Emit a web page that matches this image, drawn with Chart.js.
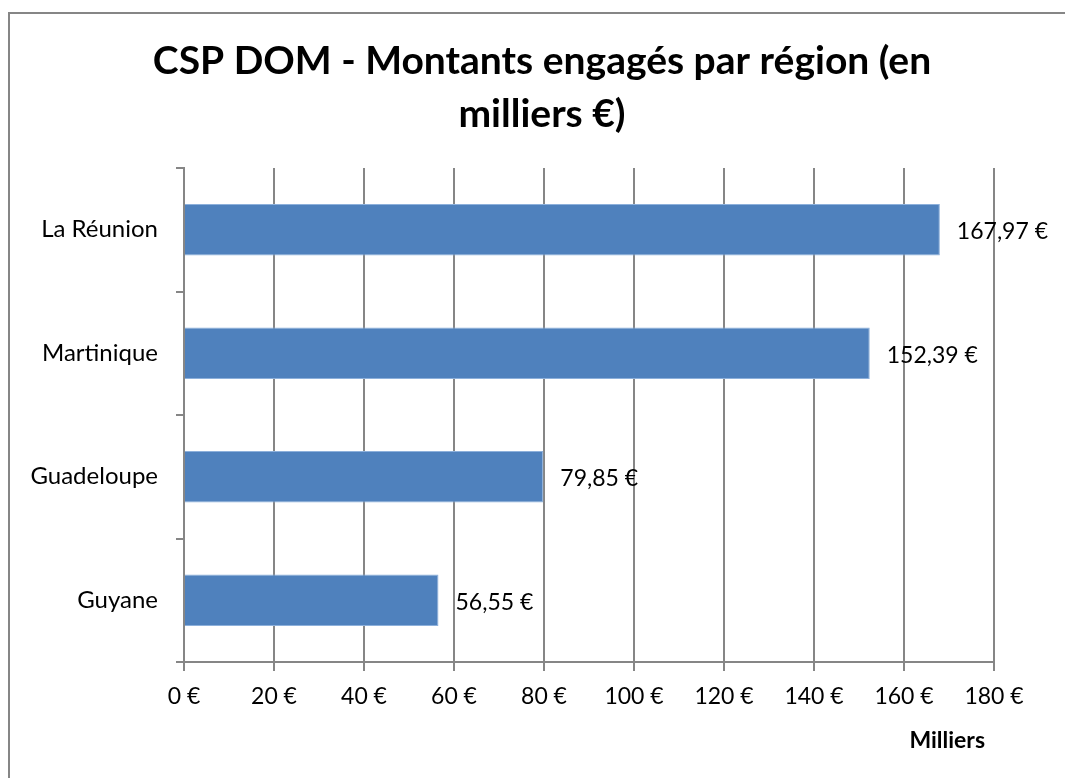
<!DOCTYPE html>
<html>
<head>
<meta charset="utf-8">
<script src="https://cdn.jsdelivr.net/npm/chart.js@4"></script>
<style>
  body { margin: 0; background: #fff; }
</style>
</head>
<body>
<canvas id="barChart" width="1065" height="778"></canvas>
<script>
Chart.defaults.font.family = 'Lato';
Chart.defaults.color = '#000';

// data
const regions = ['La Réunion', 'Martinique', 'Guadeloupe', 'Guyane'];
const montants = [167.97, 152.39, 79.85, 56.55];
const xTicks = [0, 20, 40, 60, 80, 100, 120, 140, 160, 180];
const titleLines = ['CSP DOM - Montants engagés par région (en', 'milliers €)'];

const gridColor = '#868686';

function euro(v, dec) {
  return v.toFixed(dec).replace('.', ',') + ' €';
}

// frame, title, value labels and "Milliers"
const extras = {
  id: 'extras',
  beforeDraw(chart) {
    const ctx = chart.ctx;
    ctx.save();
    ctx.strokeStyle = gridColor;
    ctx.lineWidth = 2;
    ctx.beginPath();
    ctx.moveTo(9, 800);
    ctx.lineTo(9, 13);
    ctx.lineTo(1100, 13);
    ctx.stroke();

    // title, centred on the frame (not on the plot)
    ctx.font = 'bold 39px Lato';
    ctx.fillStyle = '#000';
    ctx.textAlign = 'center';
    ctx.textBaseline = 'alphabetic';
    ctx.fillText(titleLines[0], 542, 74);
    ctx.fillText(titleLines[1], 542, 127);
    ctx.restore();
  },
  afterDatasetsDraw(chart) {
    const ctx = chart.ctx;
    const meta = chart.getDatasetMeta(0);
    ctx.save();
    ctx.font = '23px Lato';
    ctx.fillStyle = '#000';
    ctx.textAlign = 'left';
    ctx.textBaseline = 'middle';
    meta.data.forEach((bar, i) => {
      ctx.fillText(euro(montants[i], 2), bar.x + 17, bar.y + 2);
    });
    ctx.font = 'bold 23px Lato';
    ctx.textAlign = 'right';
    ctx.fillText('Milliers', chart.scales.x.right - 9, 741);
    ctx.restore();
  }
};

const chart_ctx = document.getElementById('barChart');
const barChart = new Chart(chart_ctx, {
  type: 'bar',
  data: {
    labels: regions,
    datasets: [{
      label: 'Montants',
      data: montants,
      backgroundColor: '#4F81BD',
      borderColor: '#8DB0DB',
      borderWidth: 1,
      barPercentage: 0.415,
      categoryPercentage: 1.0
    }]
  },
  options: {
    indexAxis: 'y',
    responsive: false,
    animation: false,
    layout: {
      padding: { left: 20, right: 71, top: 168, bottom: 16 }
    },
    plugins: {
      legend: { display: false },
      tooltip: { enabled: false },
      title: { display: false }
    },
    scales: {
      x: {
        min: 0,
        max: 180,
        afterBuildTicks: (scale) => { scale.ticks = xTicks.map(v => ({ value: v })); },
        afterFit: (scale) => { scale.height = 100; },
        grid: { color: gridColor, lineWidth: 2, tickLength: 9 },
        border: { color: gridColor, width: 2 },
        ticks: {
          font: { size: 23 },
          padding: 12,
          maxRotation: 0,
          callback: (v) => v + ' €'
        }
      },
      y: {
        afterFit: (scale) => { scale.width = 164; },
        grid: { offset: true, drawOnChartArea: false, color: gridColor, lineWidth: 2, tickLength: 8 },
        border: { color: gridColor, width: 2 },
        ticks: {
          font: { size: 24 },
          padding: 18
        }
      }
    }
  },
  plugins: [extras]
});
</script>
</body>
</html>
